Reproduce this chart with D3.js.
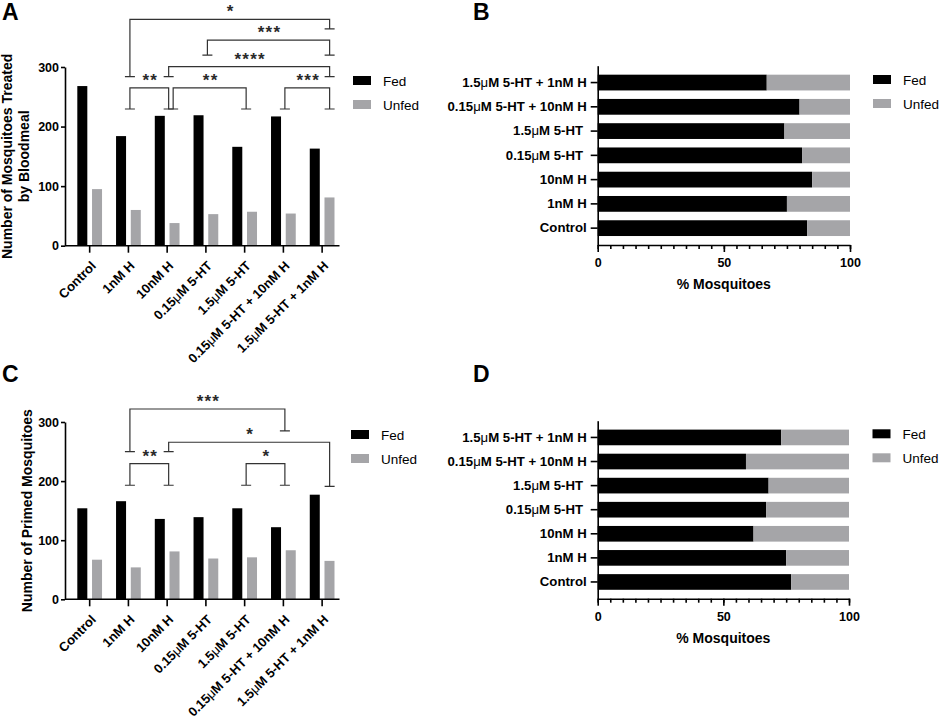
<!DOCTYPE html>
<html lang="en">
<head>
    <meta charset="UTF-8">
    <title>mosquito feeding</title>
    <style>
        body { margin: 0; background: #fff; }
        svg { font-family: "Liberation Sans", Arial, sans-serif; }
        .axis path,
        .axis line {
            fill: none;
            stroke: #000;
            stroke-width: 1.6;
        }
        .axis text {
            font-size: 13.2px;
            font-weight: bold;
            fill: #000;
        }
        .axis.num text { font-size: 12.5px; }
        .axis.cat text { font-size: 13px; }
        .title { font-size: 14px; font-weight: bold; }
        .panel { font-size: 23px; font-weight: bold; }
        .legend text { font-size: 13.5px; }
        .sig path { fill: none; stroke: #333; stroke-width: 1.2; }
        .sig text { font-size: 17px; font-weight: bold; text-anchor: middle; letter-spacing: 1.2px; fill: #2a2a2a; }
    </style>
</head>
<body>
    <svg width="941" height="721"></svg>
    <script src="https://cdn.jsdelivr.net/npm/d3@7/dist/d3.min.js"></script>
    <script>
        var groups = ["Control", "1nM H", "10nM H", "0.15μM 5-HT", "1.5μM 5-HT",
            "0.15μM 5-HT + 10nM H", "1.5μM 5-HT + 1nM H"];
        var series = ["Fed", "Unfed"];

        // A: treated by bloodmeal, C: primed (counts)
        var fedA = [268, 184, 218, 219, 166, 217, 163];
        var unfedA = [95, 60, 38, 53, 57, 54, 81];
        var fedC = [154, 166, 136, 139, 154, 122, 177];
        var unfedC = [67, 54, 81, 69, 71, 83, 65];

        // B, D: % fed
        var fedPctB = [83, 75, 85, 81, 74, 80, 67];
        var fedPctD = [77, 75, 62, 67, 68, 59, 73];

        var countTicks = [0, 100, 200, 300];
        var pctTicks = [0, 50, 100];

        // significance brackets: label, from, to, bracket top, left leg end, right leg end
        var sigA = [
            ["*", "1nM H", "1.5μM 5-HT + 1nM H", 380, 284, 364],
            ["***", "0.15μM 5-HT", "1.5μM 5-HT + 1nM H", 345, 320, 320],
            ["****", "10nM H", "1.5μM 5-HT + 1nM H", 300.5, 284, 284],
            ["**", "1nM H", "10nM H", 265, 229.5, 229.5],
            ["**", "10nM H", "1.5μM 5-HT", 265, 229.5, 229.5],
            ["***", "0.15μM 5-HT + 10nM H", "1.5μM 5-HT + 1nM H", 265, 229.5, 229.5]
        ];
        var sigC = [
            ["***", "1nM H", "0.15μM 5-HT + 10nM H", 322, 250, 285],
            ["*", "10nM H", "1.5μM 5-HT + 1nM H", 265.7, 250, 191],
            ["**", "1nM H", "10nM H", 229.4, 193, 193],
            ["*", "1.5μM 5-HT", "0.15μM 5-HT + 10nM H", 229.4, 193, 193]
        ];

        var fedColor = "#000", unfedColor = "#a5a5a8";
        var color = d3.scaleOrdinal().domain(series).range([fedColor, unfedColor]);

        var svg = d3.select("svg");

        // the greek mu is lighter than the bold labels
        function muLabels(sel) {
            sel.each(function () {
                var t = d3.select(this), s = t.text();
                if (s.indexOf("μ") < 0) return;
                t.text(null);
                s.split(/(μ)/).forEach(function (p) {
                    if (!p) return;
                    t.append("tspan").style("font-weight", p === "μ" ? "normal" : null).text(p);
                });
            });
        }

        function legend(x, y) {
            var g = svg.append("g").attr("class", "legend")
                .attr("transform", "translate(" + x + "," + y + ")");
            var item = g.selectAll("g").data(series).enter().append("g")
                .attr("transform", function (d, i) { return "translate(0," + i * 24 + ")"; });
            item.append("rect").attr("width", 18).attr("height", 9)
                .attr("fill", function (d) { return color(d); });
            item.append("text").attr("x", 30).attr("y", 9.5).text(function (d) { return d; });
        }

        function countPanel(o) {
            var x = d3.scaleBand().domain(groups).range([70.3, 341.5]);
            var sub = d3.scaleBand().domain(series).range([0, x.bandwidth()])
                .paddingInner(0.32).paddingOuter(0.476);
            var y = d3.scaleLinear().domain([0, 300]).range([o.y0, o.y1]);
            var rows = groups.map(function (g, i) {
                return { g: g, Fed: o.fed[i], Unfed: o.unfed[i] };
            });

            var grp = svg.append("g").selectAll("g").data(rows).enter().append("g")
                .attr("transform", function (d) { return "translate(" + x(d.g) + ",0)"; });
            grp.selectAll("rect")
                .data(function (d) { return series.map(function (s) { return { s: s, v: d[s] }; }); })
                .enter().append("rect")
                .attr("x", function (d) { return sub(d.s); })
                .attr("y", function (d) { return y(d.v); })
                .attr("width", sub.bandwidth())
                .attr("height", function (d) { return y(0) - y(d.v); })
                .attr("fill", function (d) { return color(d.s); });

            // x axis
            var xa = svg.append("g").attr("class", "axis cat")
                .attr("transform", "translate(0," + y(0) + ")")
                .call(d3.axisBottom(x).tickSize(7));
            xa.select(".domain").remove();
            xa.append("line").attr("x1", 65).attr("x2", 339.5);
            xa.selectAll("text")
                .attr("x", 0).attr("y", 0).attr("dy", "0.35em")
                .attr("transform", "translate(3.8,17.8) rotate(-45)")
                .style("text-anchor", "end")
                .call(muLabels);

            // y axis
            svg.append("g").attr("class", "axis num")
                .attr("transform", "translate(65,0)")
                .call(d3.axisLeft(y).tickValues(countTicks).tickSize(4).tickPadding(2).tickSizeOuter(0));

            // y title
            o.title.forEach(function (t, i) {
                svg.append("text").attr("class", "title")
                    .attr("transform", "translate(" + o.titleX[i] + "," + (o.y0 + o.y1) / 2 + ") rotate(-90)")
                    .attr("dy", "0.35em").attr("text-anchor", "middle").text(t);
            });

            // brackets
            function legX(name, shift) {
                var last = name === groups[groups.length - 1];
                return x(name) + x.bandwidth() / 2 + (last ? 7.5 : 1.5) + shift;
            }
            var sg = svg.append("g").attr("class", "sig");
            o.sig.forEach(function (b) {
                // nudge a left leg that sits on another bracket's right leg
                var clash = o.sig.some(function (c) { return c !== b && c[2] === b[1] && c[3] === b[3]; });
                var xl = legX(b[1], clash ? 4.5 : 0), xr = legX(b[2], 0);
                var yt = y(b[3]), yl = y(b[4]), yr = y(b[5]);
                var p = d3.path();
                p.moveTo(xl - 5, yl); p.lineTo(xl + 5, yl);
                p.moveTo(xl, yl); p.lineTo(xl, yt); p.lineTo(xr, yt); p.lineTo(xr, yr);
                p.moveTo(xr - 5, yr); p.lineTo(xr + 5, yr);
                sg.append("path").attr("d", p.toString());
                sg.append("text").attr("x", (xl + xr) / 2 + 1).attr("y", yt - 2).text(b[0]);
            });

            legend(o.legX, o.legY);
            svg.append("text").attr("class", "panel").attr("x", 2).attr("y", o.letterY).text(o.letter);
        }

        function pctPanel(o) {
            var x = d3.scaleLinear().domain([0, 100]).range([597.7, o.x1]);
            var y = d3.scaleBand().domain(groups).range([o.y0, o.y1])
                .paddingInner(0.35).paddingOuter(0.37);
            var rows = groups.map(function (g, i) {
                return { g: g, Fed: o.fed[i], Unfed: 100 - o.fed[i] };
            });
            var stack = d3.stack().keys(series)(rows);

            svg.append("g").selectAll("g").data(stack).enter().append("g")
                .attr("fill", function (d) { return color(d.key); })
                .selectAll("rect").data(function (d) { return d; }).enter().append("rect")
                .attr("x", function (d) { return x(d[0]); })
                .attr("y", function (d) { return y(d.data.g); })
                .attr("width", function (d) { return x(d[1]) - x(d[0]); })
                .attr("height", y.bandwidth());

            // minor ticks every 5
            svg.append("g").attr("class", "axis")
                .attr("transform", "translate(0," + o.y0 + ")")
                .call(d3.axisBottom(x).tickValues(d3.range(0, 101, 5)).tickSize(4).tickFormat(""))
                .select(".domain").remove();
            svg.append("g").attr("class", "axis num")
                .attr("transform", "translate(0," + o.y0 + ")")
                .call(d3.axisBottom(x).tickValues(pctTicks).tickSize(7).tickPadding(6).tickSizeOuter(0));

            var ya = svg.append("g").attr("class", "axis")
                .attr("transform", "translate(597.7,0)")
                .call(d3.axisLeft(y).tickSize(7).tickPadding(4).tickSizeOuter(0)
                    .tickFormat(function (d) { return /5-HT$/.test(d) ? d + "\u00a0" : d; }));
            ya.selectAll("text").call(muLabels);

            svg.append("text").attr("class", "title")
                .attr("x", (597.7 + o.x1) / 2).attr("y", o.y0 + 44)
                .attr("text-anchor", "middle").text("% Mosquitoes");

            legend(o.legX, o.legY);
            svg.append("text").attr("class", "panel").attr("x", 473).attr("y", o.letterY).text(o.letter);
        }

        countPanel({
            fed: fedA, unfed: unfedA, sig: sigA, y0: 245.7, y1: 67,
            title: ["Number of Mosquitoes Treated", "by Bloodmeal"], titleX: [7, 24],
            legX: 353, legY: 76, letter: "A", letterY: 20
        });
        countPanel({
            fed: fedC, unfed: unfedC, sig: sigC, y0: 599.3, y1: 422,
            title: ["Number of Primed Mosquitoes"], titleX: [27],
            legX: 351, legY: 430, letter: "C", letterY: 382
        });
        pctPanel({
            fed: fedPctB, x1: 850, y0: 245, y1: 65.7,
            legX: 873, legY: 75, letter: "B", letterY: 20
        });
        pctPanel({
            fed: fedPctD, x1: 849, y0: 598.7, y1: 420.7,
            legX: 872.5, legY: 429.3, letter: "D", letterY: 382
        });
    </script>
</body>
</html>
